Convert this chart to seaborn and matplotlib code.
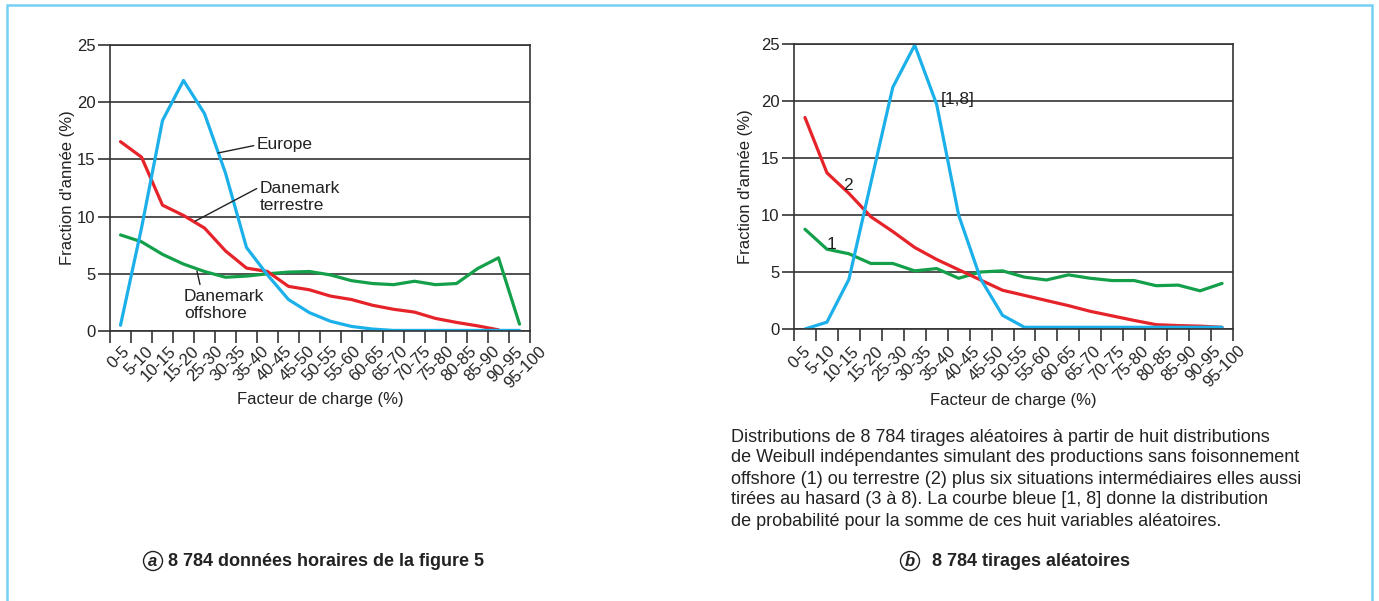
import numpy as np
import pandas as pd
import matplotlib
matplotlib.use("Agg")
import matplotlib.pyplot as plt
import seaborn as sns
from matplotlib.transforms import blended_transform_factory
from matplotlib.patches import Rectangle

# ---------------- data ----------------
categories = ["0-5", "5-10", "10-15", "15-20", "25-30", "30-35", "35-40", "40-45",
              "45-50", "50-55", "55-60", "60-65", "65-70", "70-75", "75-80",
              "80-85", "85-90", "90-95", "95-100"]

# (a) 8 784 données horaires
europe = [0.5, 9.0, 18.4, 21.9, 19.0, 13.8, 7.3, 4.9, 2.75, 1.6,
          0.85, 0.4, 0.17, 0.05, 0.05, 0.05, 0.05, 0.05, 0.05, 0.05]
dk_terrestre = [16.55, 15.2, 11.0, 10.1, 9.0, 7.0, 5.5, 5.2, 3.9, 3.6,
                3.05, 2.75, 2.25, 1.9, 1.65, 1.1, 0.75, 0.45, 0.1, np.nan]
dk_offshore = [8.4, 7.8, 6.7, 5.85, 5.2, 4.7, 4.8, 5.0, 5.15, 5.2,
               4.9, 4.4, 4.15, 4.05, 4.35, 4.05, 4.15, 5.45, 6.4, 0.6]

# (b) 8 784 tirages aléatoires
somme_1_8 = [0.0, 0.6, 4.35, 12.8, 21.2, 24.9, 19.7, 10.0, 4.4, 1.2,
             0.15, 0.15, 0.15, 0.15, 0.15, 0.15, 0.15, 0.15, 0.15, 0.15]
terrestre_2 = [18.55, 13.7, 11.9, 9.85, 8.55, 7.15, 6.1, 5.2, 4.3, 3.4,
               2.95, 2.5, 2.05, 1.55, 1.15, 0.75, 0.38, 0.3, 0.25, 0.15]
offshore_1 = [8.75, 7.0, 6.6, 5.75, 5.75, 5.1, 5.3, 4.45, 5.0, 5.1,
              4.55, 4.3, 4.75, 4.45, 4.25, 4.25, 3.8, 3.85, 3.35, 4.0]

BLUE, RED, GREEN = "#1BB0E9", "#E52329", "#14A04A"
DARK = "#333333"
TXT = "#222222"

sns.set_theme(style="white")
plt.rcParams["font.family"] = ["Liberation Sans", "DejaVu Sans"]

W, H = 1379, 601
fig = plt.figure(figsize=(W / 100, H / 100), dpi=100)


def px(x0, y0, x1, y1):
    return [x0 / W, 1 - y1 / H, (x1 - x0) / W, (y1 - y0) / H]


def long_df(series):
    rows = []
    for name, vals in series.items():
        for i, v in enumerate(vals):
            rows.append({"x": i, "val": v, "serie": name})
    return pd.DataFrame(rows).dropna()


def style_axes(ax, lab_positions, lab_y, xlab_y, ylab_x):
    ax.set_xlim(-0.5, len(europe) - 0.5)
    ax.set_ylim(0, 25)
    ax.set_yticks([0, 5, 10, 15, 20, 25])
    ax.set_xticks(np.arange(-0.5, len(europe), 1))
    ax.set_xticklabels([])
    ax.yaxis.grid(True, color=DARK, lw=1.2)
    ax.xaxis.grid(False)
    ax.set_axisbelow(True)
    for s in ax.spines.values():
        s.set_visible(True)
        s.set_color(DARK)
        s.set_linewidth(1.2)
    ax.tick_params(axis="both", which="major", direction="out", length=8.5,
                   width=1.2, color=DARK, labelsize=12, labelcolor=TXT, pad=2,
                   bottom=True, left=True, top=False, right=False)
    trans = blended_transform_factory(ax.transData, ax.transAxes)
    for p, lab in zip(lab_positions, categories):
        ax.text(p, lab_y, lab, transform=trans, rotation=45,
                rotation_mode="anchor", ha="right", va="top",
                fontsize=12, color=TXT)
    ax.set_xlabel("Facteur de charge (%)", fontsize=12, color=TXT)
    ax.set_ylabel("Fraction d'année (%)", fontsize=12, color=TXT)
    ax.xaxis.set_label_coords(0.5, xlab_y)
    ax.yaxis.set_label_coords(ylab_x, 0.5)


# ---------- (a) ----------
axL = fig.add_axes(px(110, 45, 530, 331))
dfL = long_df({"Europe": europe, "Danemark terrestre": dk_terrestre,
               "Danemark offshore": dk_offshore})
sns.lineplot(data=dfL, x="x", y="val", hue="serie", ax=axL, legend=False,
             palette={"Europe": BLUE, "Danemark terrestre": RED,
                      "Danemark offshore": GREEN},
             hue_order=["Danemark offshore", "Danemark terrestre", "Europe"],
             linewidth=2.3)
style_axes(axL, np.linspace(0.07, 19.9, len(categories)), -0.045, -0.215, -0.083)

axL.annotate("Europe", xy=(4.64, 15.56), xytext=(6.5, 16.26), fontsize=12.5,
             color=TXT, va="center", ha="left",
             arrowprops=dict(arrowstyle="-", color=TXT, lw=1, shrinkA=0, shrinkB=0,
                             relpos=(0, 0.5)))
axL.annotate("Danemark\nterrestre", xy=(3.55, 9.6), xytext=(6.64, 13.1),
             fontsize=12.5, color=TXT, va="top", ha="left", linespacing=1.15,
             arrowprops=dict(arrowstyle="-", color=TXT, lw=1, shrinkA=0, shrinkB=0,
                             relpos=(0, 0.82)))
axL.annotate("Danemark\noffshore", xy=(3.64, 5.24), xytext=(3.02, 3.65),
             fontsize=12.5, color=TXT, va="top", ha="left", linespacing=1.15,
             arrowprops=dict(arrowstyle="-", color=TXT, lw=1, shrinkA=0, shrinkB=0,
                             relpos=(0.2, 1.15)))

# ---------- (b) ----------
axR = fig.add_axes(px(794, 44, 1233, 329))
dfR = long_df({"[1,8]": somme_1_8, "2": terrestre_2, "1": offshore_1})
sns.lineplot(data=dfR, x="x", y="val", hue="serie", ax=axR, legend=False,
             palette={"[1,8]": BLUE, "2": RED, "1": GREEN},
             hue_order=["1", "2", "[1,8]"], linewidth=2.3)
style_axes(axR, np.linspace(-0.1, 19.7, len(categories)), -0.05, -0.225, -0.093)
axR.text(6.2, 20.1, "[1,8]", fontsize=12.5, color=TXT, va="center", ha="left")
axR.text(1.96, 12.6, "2", fontsize=12.5, color=TXT, va="center", ha="center")
axR.text(1.23, 7.4, "1", fontsize=12.5, color=TXT, va="center", ha="center")

# ---------- captions ----------
caption_lines = [
    "Distributions de 8 784 tirages aléatoires à partir de huit distributions",
    "de Weibull indépendantes simulant des productions sans foisonnement",
    "offshore (1) ou terrestre (2) plus six situations intermédiaires elles aussi",
    "tirées au hasard (3 à 8). La courbe bleue [1, 8] donne la distribution",
    "de probabilité pour la somme de ces huit variables aléatoires.",
]
for k, line in enumerate(caption_lines):
    fig.text(731 / W, 1 - (437 + 21 * k) / H, line, fontsize=13, color=TXT,
             ha="left", va="center")

cap_font = ["Liberation Sans Narrow", "Liberation Sans", "DejaVu Sans"]
for cx, tx, letter, txt in [(153, 168, "a", "8 784 données horaires de la figure 5"),
                            (910, 932, "b", "8 784 tirages aléatoires")]:
    fig.text(cx / W, 1 - 561 / H, letter, fontsize=12, style="italic",
             weight="bold", color=TXT, ha="center", va="center",
             family=cap_font,
             bbox=dict(boxstyle="circle,pad=0.12", fc="white", ec=TXT, lw=1))
    fig.text(tx / W, 1 - 561 / H, txt, fontsize=13, weight="bold", color=TXT,
             ha="left", va="center", family=cap_font)

# frame
fig.patches.append(Rectangle((7 / W, -0.05), (1372 - 7) / W, 1.05 - 5.5 / H,
                             transform=fig.transFigure, fill=False,
                             ec="#76D0F4", lw=1.8))

fig.savefig("out.png", dpi=100)
